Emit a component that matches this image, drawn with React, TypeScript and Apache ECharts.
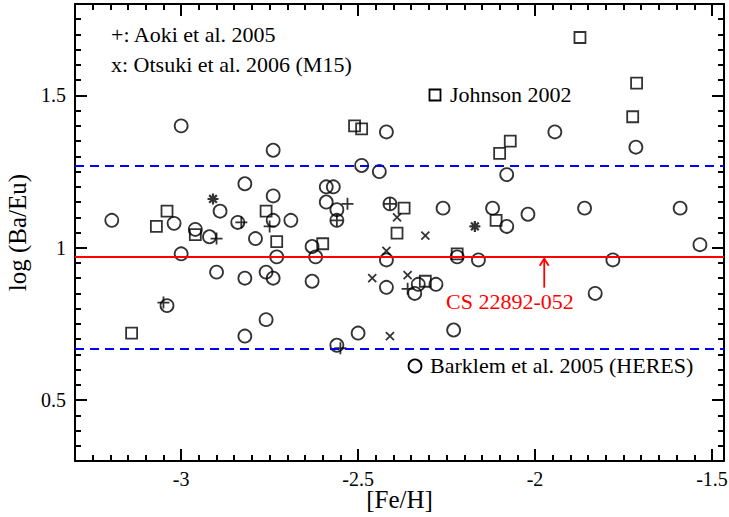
import React, { useEffect, useRef } from "react";
import * as echarts from "echarts";

// ---- data ----
const xTickLabels = [-3, -2.5, -2, -1.5];
const yTickLabels = [0.5, 1, 1.5];

// Barklem et al. 2005 (HERES) - open circles
const barklem: [number, number][] = [
  [-3.196, 1.09], [-3.0, 1.4], [-3.02, 1.08], [-3.0, 0.98], [-3.04, 0.81],
  [-2.96, 1.06], [-2.92, 1.036], [-2.89, 1.12], [-2.9, 0.92], [-2.84, 1.083],
  [-2.82, 1.21], [-2.82, 0.9], [-2.82, 0.71], [-2.79, 1.03], [-2.76, 0.92],
  [-2.76, 0.764], [-2.74, 1.32], [-2.74, 1.17], [-2.74, 1.09], [-2.74, 0.9],
  [-2.73, 0.97], [-2.69, 1.09], [-2.63, 1.004], [-2.63, 0.89], [-2.62, 0.97],
  [-2.59, 1.2], [-2.57, 1.2], [-2.59, 1.15], [-2.56, 1.125], [-2.56, 1.09],
  [-2.56, 0.68], [-2.5, 0.72], [-2.49, 1.27], [-2.44, 1.25], [-2.42, 1.38],
  [-2.41, 1.144], [-2.42, 0.96], [-2.42, 0.87], [-2.34, 0.85], [-2.33, 0.88],
  [-2.28, 0.88], [-2.26, 1.13], [-2.22, 0.97], [-2.23, 0.73], [-2.16, 0.96],
  [-2.12, 1.13], [-2.08, 1.24], [-2.08, 1.07], [-2.02, 1.11], [-1.944, 1.38],
  [-1.86, 1.13], [-1.83, 0.85], [-1.78, 0.96], [-1.715, 1.33], [-1.59, 1.13],
  [-1.534, 1.01],
];

// Johnson 2002 - open squares
const johnson: [number, number][] = [
  [-3.14, 0.72], [-3.07, 1.07], [-3.04, 1.12], [-2.96, 1.043], [-2.76, 1.12],
  [-2.73, 1.02], [-2.6, 1.013], [-2.51, 1.4], [-2.49, 1.39], [-2.37, 1.13],
  [-2.39, 1.048], [-2.31, 0.89], [-2.22, 0.98], [-2.11, 1.09], [-2.1, 1.31],
  [-2.07, 1.35], [-1.873, 1.69], [-1.713, 1.54], [-1.724, 1.43],
];

// Aoki et al. 2005 - plus
const aoki: [number, number][] = [
  [-3.05, 0.82], [-2.9, 1.03], [-2.83, 1.083], [-2.75, 1.07], [-2.53, 1.144],
  [-2.56, 1.09], [-2.41, 1.144], [-2.55, 0.67], [-2.36, 0.865],
];

// Otsuki et al. 2006 (M15) - crosses
const otsuki: [number, number][] = [
  [-2.39, 1.1], [-2.42, 0.99], [-2.46, 0.9], [-2.36, 0.91], [-2.41, 0.71],
  [-2.31, 1.04],
];

// asterisks
const asterisks: [number, number][] = [
  [-2.91, 1.16], [-2.17, 1.07],
];

const meanLine = 0.97;
const upperLine = 1.27;
const lowerLine = 0.67;
const arrowX = -1.974;
const arrowFrom = 0.869;
const arrowTo = 0.964;

const X_MIN = -3.3;
const X_MAX = -1.466;
const Y_MIN = 0.3;
const Y_MAX = 1.8;

const FONT = "Liberation Serif";

function minorTicks(min: number, max: number, step: number, majors: number[]) {
  const out: number[] = [];
  const n = Math.floor((max - min) / step + 1e-6);
  for (let k = 1; k <= n; k++) {
    const v = Math.round((min + k * step) * 1000) / 1000;
    if (v < max && !majors.some((m) => Math.abs(m - v) < 1e-6)) out.push(v);
  }
  return out;
}

const PLUS = "path://M0,6 L12,6 M6,0 L6,12";
const CROSS = "path://M0,0 L10,10 M10,0 L0,10";
const ASTER = "path://M0,6 L12,6 M6,0 L6,12 M1.8,1.8 L10.2,10.2 M10.2,1.8 L1.8,10.2";

export default function App() {
  const ref = useRef<HTMLDivElement>(null);

  useEffect(() => {
    if (!ref.current) return;
    const chart = echarts.init(ref.current, undefined, { renderer: "svg" });

    const xMinor = minorTicks(X_MIN, X_MAX, 0.05, xTickLabels);
    const yMinor = minorTicks(Y_MIN, Y_MAX, 0.05, yTickLabels);

    const majorX = (pos: "bottom" | "top", labels: boolean, name?: string) => ({
      type: "value",
      position: pos,
      min: X_MIN,
      max: X_MAX,
      name: name,
      nameLocation: "middle",
      nameGap: 26,
      nameMoveOverlap: false,
      nameTextStyle: { fontFamily: FONT, fontSize: 25, color: "#000" },
      axisLine: { show: true, onZero: false, lineStyle: { color: "#000", width: 2 } },
      axisTick: {
        show: true,
        inside: true,
        length: 12,
        customValues: xTickLabels,
        lineStyle: { color: "#000", width: 2 },
      },
      axisLabel: {
        show: labels,
        customValues: xTickLabels,
        formatter: (v: number) => String(v),
        fontFamily: FONT,
        fontSize: 20,
        color: "#000",
        margin: 8,
      },
      splitLine: { show: false },
    });
    const minorXAxis = (pos: "bottom" | "top") => ({
      type: "value",
      position: pos,
      min: X_MIN,
      max: X_MAX,
      axisLine: { show: false, onZero: false },
      axisTick: {
        show: true,
        inside: true,
        length: 6,
        customValues: xMinor,
        lineStyle: { color: "#000", width: 2 },
      },
      axisLabel: { show: false },
      splitLine: { show: false },
    });
    const majorY = (pos: "left" | "right", labels: boolean, name?: string) => ({
      type: "value",
      position: pos,
      min: Y_MIN,
      max: Y_MAX,
      name: name,
      nameLocation: "middle",
      nameGap: 42,
      nameTextStyle: { fontFamily: FONT, fontSize: 25, color: "#000" },
      axisLine: { show: true, onZero: false, lineStyle: { color: "#000", width: 2 } },
      axisTick: {
        show: true,
        inside: true,
        length: 12,
        customValues: yTickLabels,
        lineStyle: { color: "#000", width: 2 },
      },
      axisLabel: {
        show: labels,
        customValues: yTickLabels,
        formatter: (v: number) => String(v),
        fontFamily: FONT,
        fontSize: 20,
        color: "#000",
        margin: 9,
      },
      splitLine: { show: false },
    });
    const minorYAxis = (pos: "left" | "right") => ({
      type: "value",
      position: pos,
      min: Y_MIN,
      max: Y_MAX,
      axisLine: { show: false, onZero: false },
      axisTick: {
        show: true,
        inside: true,
        length: 6,
        customValues: yMinor,
        lineStyle: { color: "#000", width: 2 },
      },
      axisLabel: { show: false },
      splitLine: { show: false },
    });

    const hollow = { color: "transparent", borderColor: "#000", borderWidth: 1.8 };
    const stroke = { color: "none", borderColor: "#000", borderWidth: 1.8 };

    chart.setOption({
      animation: false,
      backgroundColor: "#fff",
      grid: { left: 75, right: 5, top: 4, bottom: 56, containLabel: false, outerBoundsMode: "none" },
      xAxis: [majorX("bottom", true, "[Fe/H]"), minorXAxis("bottom"), majorX("top", false), minorXAxis("top")],
      yAxis: [majorY("left", true, "log (Ba/Eu)"), minorYAxis("left"), majorY("right", false), minorYAxis("right")],
      series: [
        {
          type: "line",
          data: [],
          markLine: {
            silent: true,
            symbol: "none",
            label: { show: false },
            data: [
              { yAxis: meanLine, lineStyle: { color: "#ff0000", width: 1.8, type: "solid" } },
              { yAxis: upperLine, lineStyle: { color: "#0000ff", width: 2, type: [9, 6] } },
              { yAxis: lowerLine, lineStyle: { color: "#0000ff", width: 2, type: [9, 6] } },
            ],
          },
        },
        {
          name: "Barklem",
          type: "scatter",
          symbol: "circle",
          symbolSize: 13,
          itemStyle: hollow,
          data: barklem,
        },
        {
          name: "Johnson",
          type: "scatter",
          symbol: "rect",
          symbolSize: 11,
          itemStyle: hollow,
          data: johnson,
        },
        {
          name: "Aoki",
          type: "scatter",
          symbol: PLUS,
          symbolSize: 12,
          itemStyle: stroke,
          data: aoki,
        },
        {
          name: "Otsuki",
          type: "scatter",
          symbol: CROSS,
          symbolSize: 8,
          itemStyle: stroke,
          data: otsuki,
        },
        {
          name: "Asterisk",
          type: "scatter",
          symbol: ASTER,
          symbolSize: 11,
          itemStyle: { color: "none", borderColor: "#000", borderWidth: 2.2 },
          data: asterisks,
        },
      ],
    });

    const p0 = chart.convertToPixel({ xAxisIndex: 0, yAxisIndex: 0 }, [arrowX, arrowFrom]) as number[];
    const p1 = chart.convertToPixel({ xAxisIndex: 0, yAxisIndex: 0 }, [arrowX, arrowTo]) as number[];

    const textStyle = (fs: number, fill = "#000") => ({ fontFamily: FONT, fontSize: fs, fill });

    chart.setOption({
      graphic: [
        { type: "text", left: 111, top: 23, style: { text: "+: Aoki et al. 2005", ...textStyle(22) } },
        { type: "text", left: 111, top: 53, style: { text: "x: Otsuki et al. 2006 (M15)", ...textStyle(22) } },
        {
          type: "rect",
          shape: { x: 429.5, y: 89.5, width: 11, height: 11 },
          style: { fill: "none", stroke: "#000", lineWidth: 1.8 },
        },
        { type: "text", left: 450, top: 83, style: { text: "Johnson 2002", ...textStyle(22) } },
        {
          type: "circle",
          shape: { cx: 415, cy: 366, r: 6.5 },
          style: { fill: "none", stroke: "#000", lineWidth: 1.8 },
        },
        { type: "text", left: 430, top: 354, style: { text: "Barklem et al. 2005 (HERES)", ...textStyle(22) } },
        { type: "text", left: 446, top: 290, style: { text: "CS 22892-052", ...textStyle(22, "#ff0000") } },
        {
          type: "line",
          shape: { x1: p0[0], y1: p0[1], x2: p1[0], y2: p1[1] },
          style: { stroke: "#ff0000", lineWidth: 1.8 },
        },
        {
          type: "polyline",
          shape: { points: [[p1[0] - 4.5, p1[1] + 7], [p1[0], p1[1]], [p1[0] + 4.5, p1[1] + 7]] },
          style: { stroke: "#ff0000", lineWidth: 1.8, fill: "none" },
        },
      ],
    });

    return () => chart.dispose();
  }, []);

  return <div ref={ref} style={{ width: 729, height: 517, position: "absolute", left: 0, top: 0 }} />;
}
